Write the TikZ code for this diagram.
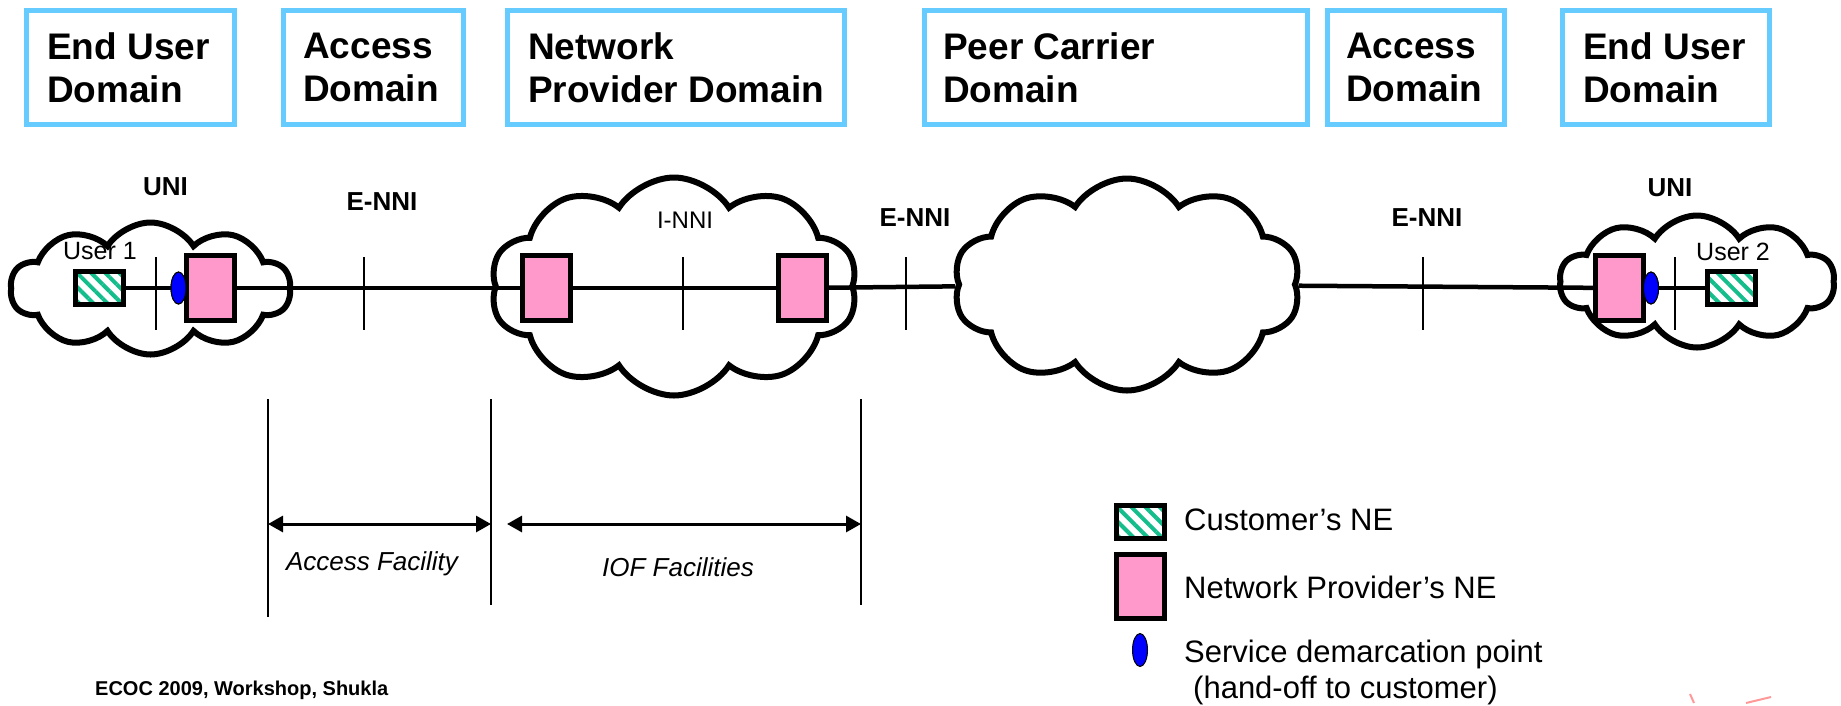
\documentclass[tikz,border=0pt]{standalone}
\usepackage{fontspec}
\setmainfont{Liberation Sans}
\usetikzlibrary{shapes.symbols,shapes.geometric,patterns.meta,arrows.meta,positioning}
\definecolor{domainblue}{RGB}{102,204,255}
\definecolor{nepink}{RGB}{255,153,204}
\definecolor{hatchgreen}{RGB}{20,190,140}
\tikzset{
  dombox/.style={draw=domainblue,line width=5pt,minimum height=114pt,inner sep=0pt},
  domtext/.style={anchor=west,align=left,inner sep=0pt,font=\fontsize{37}{43}\selectfont\bfseries},
  net/.style={cloud,draw,fill=white,line width=6pt,cloud puffs=10,cloud puff arc=115,inner sep=0pt},
  provne/.style={draw,fill=nepink,line width=5pt,minimum width=48pt,minimum height=65pt,inner sep=0pt},
  custne/.style={draw,line width=5pt,minimum width=48pt,minimum height=33pt,inner sep=0pt,
    preaction={fill=white},pattern={Lines[angle=-45,distance=10pt,line width=4pt]},pattern color=hatchgreen},
  demarc/.style={ellipse,draw,fill=blue,line width=1pt,minimum width=15pt,minimum height=32pt,inner sep=0pt},
  wire/.style={line width=4.5pt},
  tickline/.style={line width=2.5pt},
  ifname/.style={font=\fontsize{26}{30}\selectfont\bfseries},
  facline/.style={line width=2.5pt},
  facarrow/.style={line width=3pt,{Triangle[length=15pt,width=16pt]}-{Triangle[length=15pt,width=16pt]}},
  factext/.style={font=\fontsize{26}{30}\selectfont\itshape},
  legtext/.style={anchor=west,align=left,inner sep=0pt,font=\fontsize{31}{36}\selectfont}
}
\begin{document}
\begin{tikzpicture}[x=1pt,y=-1pt]
\useasboundingbox (0,0) rectangle (1841,705);
% domain boxes
\node[dombox,minimum width=208pt] (dom1) at (130.5,67.5) {};
\node[dombox,minimum width=180pt] (dom2) at (373.5,67.5) {};
\node[dombox,minimum width=337pt] (dom3) at (676,67.5) {};
\node[dombox,minimum width=383pt] (dom4) at (1116,67.5) {};
\node[dombox,minimum width=177pt] (dom5) at (1416,67.5) {};
\node[dombox,minimum width=207pt] (dom6) at (1666,67.5) {};
\node[domtext] (dom1t) at ([xshift=23pt]dom1.west) {End User\\Domain};
\node[domtext] (dom2t) at ([xshift=22pt]dom2.west) {Access\\Domain};
\node[domtext] (dom3t) at ([xshift=23pt]dom3.west) {Network\\Provider Domain};
\node[domtext] (dom4t) at ([xshift=21pt]dom4.west) {Peer Carrier\\Domain};
\node[domtext] (dom5t) at ([xshift=21pt]dom5.west) {Access\\Domain};
\node[domtext] (dom6t) at ([xshift=23pt]dom6.west) {End User\\Domain};
% clouds
\node[net,minimum width=280pt,minimum height=132pt] (cloudA) at (150.5,288.5) {};
\node[net,minimum width=367pt,minimum height=218pt] (cloudB) at (674,286.5) {};
\node[net,minimum width=275pt,minimum height=132pt] (cloudD) at (1697,281.5) {};
% network elements
\node[custne] (user1) at (99.5,288) {};
\node[demarc] (dmk1) at (178.5,288) {};
\node[provne] (ne1) at (210.5,288) {};
\node[provne] (ne2) at (546.5,288) {};
\node[provne] (ne3) at (802.5,288) {};
\node[provne] (ne4) at (1619.5,288) {};
\node[demarc] (dmk2) at (1651,288) {};
\node[custne] (user2) at (1731,288) {};
% the line
\draw[wire] (user1) -- (dmk1);
\draw[wire] (ne1) -- (ne2);
\draw[wire] (ne2) -- (ne3);
\draw[wire] (dmk2) -- (user2);
\node[net,minimum width=347pt,minimum height=212pt] (cloudC) at (1127,284.5) {};
\draw[wire] (ne3) -- (cloudC);
\draw[wire] (cloudC) -- (ne4);
\node[demarc] at (dmk1) {};
\node[demarc] at (dmk2) {};
% interface ticks
\draw[tickline] (156,257) -- (156,330);
\draw[tickline] (364,257) -- (364,330);
\draw[tickline] (683,257) -- (683,330);
\draw[tickline] (906,257) -- (906,330);
\draw[tickline] (1423,257) -- (1423,330);
\draw[tickline] (1675,257) -- (1675,330);
\node[ifname] (uniA) at (165.5,187) {UNI};
\node[ifname] (enniA) at (382,202) {E-NNI};
\node[font=\fontsize{24}{28}\selectfont] (inni) at (685,220) {I-NNI};
\node[ifname] (enniB) at (915,218) {E-NNI};
\node[ifname] (enniC) at (1427,218) {E-NNI};
\node[ifname] (uniB) at (1670,188) {UNI};
\node[font=\fontsize{25}{28}\selectfont] (user1t) at (100,251) {User 1};
\node[font=\fontsize{25}{28}\selectfont] (user2t) at (1733,252) {User 2};
% facilities
\coordinate (f1top) at (268,399);
\coordinate (f1bot) at (268,617);
\coordinate (f2top) at (491,399);
\coordinate (f2bot) at (491,605);
\coordinate (f3top) at (861,399);
\coordinate (f3bot) at (861,605);
\draw[facline] (f1top) -- (f1bot);
\draw[facline] (f2top) -- (f2bot);
\draw[facline] (f3top) -- (f3bot);
\coordinate (accL) at (268,524);
\coordinate (accR) at (491,524);
\coordinate (iofL) at (507,524);
\coordinate (iofR) at (861,524);
\draw[facarrow] (accL) -- (accR);
\draw[facarrow] (iofL) -- (iofR);
\node[factext] (acct) at (372,564) {Access Facility};
\node[factext] (ioft) at (678,567) {IOF Facilities};
% legend
\node[custne] (legcust) at (1140,522) {};
\node[provne,minimum height=64pt] (legne) at (1140,586.5) {};
\node[demarc,minimum height=33pt] (legdmk) at (1140,650) {};
\node[legtext] (legcustt) at (1184,520) {Customer’s NE};
\node[legtext] (legnet) at (1184,587) {Network Provider’s NE};
\node[legtext] (legdmkt) at (1184,672) {Service demarcation point\\\hspace{9pt}(hand-off to customer)};
% footer
\node[anchor=west,inner sep=0pt,font=\fontsize{20}{24}\selectfont\bfseries] (foot) at (95,690) {ECOC 2009, Workshop, Shukla};
\draw[red!40,line width=2pt] (1690,694) -- (1694,703);
\draw[red!40,line width=2pt] (1746,703) -- (1771,697);
\end{tikzpicture}
\end{document}
